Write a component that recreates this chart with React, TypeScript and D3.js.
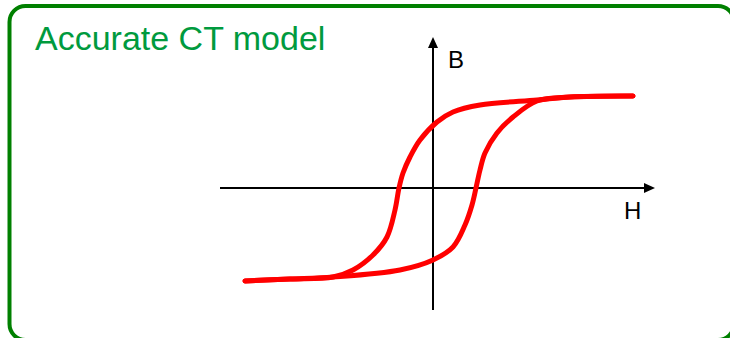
import * as d3 from 'd3'

// Hysteresis loop (H, B), arbitrary units
const upperH = [2.0, 1.37, 1.04, 0.47, 0.2, 0.04, -0.13, -0.23, -0.3, -0.34, -0.38, -0.46, -0.6, -0.8, -1.0, -1.43, -1.88]
const upperB = [0.92, 0.91, 0.88, 0.83, 0.76, 0.66, 0.48, 0.31, 0.15, 0.0, -0.22, -0.49, -0.67, -0.82, -0.89, -0.91, -0.93]
const lowerH = [-1.88, -1.43, -1.0, -0.33, 0.0, 0.2, 0.32, 0.39, 0.43, 0.47, 0.52, 0.64, 0.8, 1.04, 1.37, 2.0]
const lowerB = [-0.93, -0.91, -0.89, -0.82, -0.72, -0.59, -0.37, -0.17, 0.0, 0.18, 0.35, 0.55, 0.71, 0.87, 0.91, 0.92]

// axis extents
const hExtent = [-2.13, 2.22]
const bExtent = [-1.22, 1.51]

const title = 'Accurate CT model'
const hLabel = 'H'
const bLabel = 'B'

export default function App() {
  const width = 730
  const height = 338

  const x = d3.scaleLinear().domain(hExtent).range([220, 655])
  const y = d3.scaleLinear().domain(bExtent).range([310, 37])

  const line = d3
    .line<[number, number]>()
    .x(d => x(d[0]))
    .y(d => y(d[1]))
    .curve(d3.curveCatmullRom.alpha(0.5))

  const upper = upperH.map((h, i) => [h, upperB[i]] as [number, number])
  const lower = lowerH.map((h, i) => [h, lowerB[i]] as [number, number])

  const x0 = x(0)
  const y0 = y(0)
  const hEnd = x(hExtent[1])
  const bEnd = y(bExtent[1])

  return (
    <svg
      width={width}
      height={height}
      style={{ position: 'absolute', left: 0, top: 0 }}
      fontFamily="'Liberation Sans', Arial, sans-serif"
    >
      {/* frame runs past the right and bottom edges of the picture */}
      <rect x={9.5} y={6} width={724.5} height={334} rx={16} fill="#fff" stroke="#008000" strokeWidth={4} />
      <text x={35} y={50} fontSize={34} fill="#009a3e">{title}</text>

      {/* axes */}
      <line x1={x(hExtent[0])} x2={hEnd - 8} y1={y0} y2={y0} stroke="#000" strokeWidth={2} />
      <path d={`M${hEnd},${y0} L${hEnd - 11},${y0 - 5} L${hEnd - 11},${y0 + 5} Z`} fill="#000" />
      <line x1={x0} x2={x0} y1={y(bExtent[0])} y2={bEnd + 8} stroke="#000" strokeWidth={2} />
      <path d={`M${x0},${bEnd} L${x0 - 5},${bEnd + 11} L${x0 + 5},${bEnd + 11} Z`} fill="#000" />
      <text x={x0 + 15} y={bEnd + 31} fontSize={24} fill="#000">{bLabel}</text>
      <text x={hEnd - 31} y={y0 + 31} fontSize={24} fill="#000">{hLabel}</text>

      {/* loop */}
      <path d={line(upper) ?? ''} fill="none" stroke="#ff0000" strokeWidth={5} strokeLinecap="round" />
      <path d={line(lower) ?? ''} fill="none" stroke="#ff0000" strokeWidth={5} strokeLinecap="round" />
    </svg>
  )
}
